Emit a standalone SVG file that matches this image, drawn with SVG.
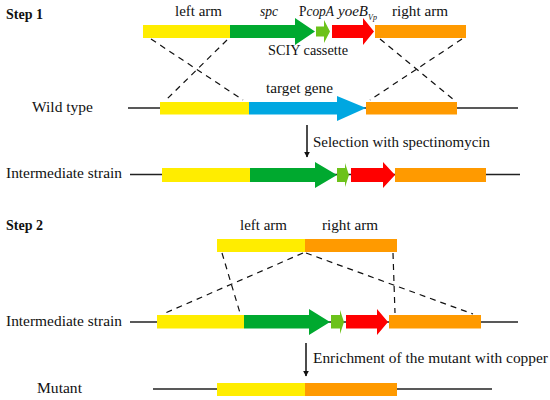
<svg xmlns="http://www.w3.org/2000/svg" width="550" height="400" viewBox="0 0 550 400">
<defs>
<style>
text{font-family:"Liberation Serif","Times New Roman",serif;font-size:15px;fill:#111}
.b{font-weight:bold;font-size:14px}
.i{font-style:italic}
.y{fill:#FFED00}
.g{fill:#00A92F}
.lg{fill:#6CC21A}
.r{fill:#FF0000}
.o{fill:#FF9A00}
.bl{fill:#00A7E1}
.ln{stroke:#222;stroke-width:1.3;fill:none}
.d{stroke:#111;stroke-width:1.2;stroke-dasharray:6,5;fill:none}
.ar{stroke:#111;stroke-width:1.5;fill:none;marker-end:url(#ah)}
</style>
<marker id="ah" viewBox="0 0 10 10" refX="9" refY="5" markerWidth="6" markerHeight="7" orient="auto" markerUnits="userSpaceOnUse">
<path d="M0,0 L10,5 L0,10 z" fill="#111"/>
</marker>
</defs>
<rect width="550" height="400" fill="#fff"/>

<text class="b" x="6" y="19" textLength="37" lengthAdjust="spacingAndGlyphs">Step 1</text>
<text class="b" x="6" y="230" textLength="37" lengthAdjust="spacingAndGlyphs">Step 2</text>

<!-- Step 1 construct -->
<g id="s1-construct">
<rect class="y" x="143" y="25" width="87" height="13"/>
<polygon class="g" points="230,25 295,25 295,18 315,31.5 295,45 295,38 230,38"/>
<polygon class="lg" points="316,26.5 324,26.5 324,20 330,31.5 324,43 324,36.5 316,36.5"/>
<polygon class="r" points="332,25 363,25 363,18 374,31.5 363,45 363,38 332,38"/>
<rect class="o" x="375" y="25" width="91" height="13"/>
<text x="175" y="16" textLength="47" lengthAdjust="spacingAndGlyphs">left arm</text>
<text class="i" x="260" y="16" textLength="18" lengthAdjust="spacingAndGlyphs">spc</text>
<text x="299" y="16" textLength="35" lengthAdjust="spacingAndGlyphs">P<tspan class="i">copA</tspan></text>
<text class="i" x="338" y="16" textLength="30" lengthAdjust="spacingAndGlyphs">yoeB</text>
<text class="i" x="368" y="20" style="font-size:8px">Vp</text>
<text x="392" y="16" textLength="56" lengthAdjust="spacingAndGlyphs">right arm</text>
<text x="268" y="55" textLength="80" lengthAdjust="spacingAndGlyphs">SCIY cassette</text>
</g>

<!-- Wild type -->
<g id="wild-type">
<text x="32" y="112" textLength="61" lengthAdjust="spacingAndGlyphs">Wild type</text>
<line class="ln" x1="128" y1="108" x2="518" y2="108"/>
<rect class="y" x="160" y="102" width="89" height="12.5"/>
<polygon class="bl" points="249,102 337,102 337,96 366,108 337,121 337,114.5 249,114.5"/>
<rect class="o" x="366" y="102" width="91" height="12.5"/>
<text x="266" y="93" textLength="67" lengthAdjust="spacingAndGlyphs">target gene</text>
</g>

<!-- Intermediate strain 1 -->
<g id="intermediate-1">
<text x="6" y="178" textLength="116" lengthAdjust="spacingAndGlyphs">Intermediate strain</text>
<line class="ln" x1="130" y1="174.5" x2="520" y2="174.5"/>
<rect class="y" x="162" y="168" width="88" height="14"/>
<polygon class="g" points="250,168 315,168 315,162 337,175 315,188 315,182 250,182"/>
<polygon class="lg" points="337,168 345,168 345,163 349,175 345,187 345,182 337,182"/>
<polygon class="r" points="351,168 383,168 383,162 395,175 383,188 383,182 351,182"/>
<rect class="o" x="395" y="168" width="91" height="14"/>
</g>

<!-- Step 2 arms -->
<g id="s2-arms">
<rect class="y" x="217" y="239" width="88" height="13"/>
<rect class="o" x="305" y="239" width="92" height="13"/>
<text x="240" y="230" textLength="47" lengthAdjust="spacingAndGlyphs">left arm</text>
<text x="322" y="230" textLength="56" lengthAdjust="spacingAndGlyphs">right arm</text>
</g>

<!-- Intermediate strain 2 -->
<g id="intermediate-2">
<text x="6" y="326" textLength="116" lengthAdjust="spacingAndGlyphs">Intermediate strain</text>
<line class="ln" x1="130" y1="322" x2="518" y2="322"/>
<rect class="y" x="157" y="315" width="87" height="13.5"/>
<polygon class="g" points="244,315 309,315 309,309 330,322 309,335 309,328.5 244,328.5"/>
<polygon class="lg" points="331,315 340,315 340,310 344,322 340,334 340,328.5 331,328.5"/>
<polygon class="r" points="346,315 377,315 377,309 388,322 377,335 377,328.5 346,328.5"/>
<rect class="o" x="389" y="315" width="92" height="13.5"/>
</g>

<!-- Mutant -->
<g id="mutant">
<text x="37" y="393" textLength="45" lengthAdjust="spacingAndGlyphs">Mutant</text>
<line class="ln" x1="153" y1="389" x2="492" y2="389"/>
<rect class="y" x="217" y="383" width="88" height="13"/>
<rect class="o" x="305" y="383" width="92" height="13"/>
</g>

<g id="connectors">
<line class="d" x1="151" y1="39" x2="243" y2="100"/>
<line class="d" x1="227" y1="40" x2="167" y2="99"/>
<line class="d" x1="380" y1="39" x2="454" y2="100"/>
<line class="d" x1="462" y1="39" x2="370" y2="100"/>
<line class="d" x1="222" y1="253" x2="240" y2="313"/>
<line class="d" x1="303" y1="253" x2="163" y2="314"/>
<line class="d" x1="306" y1="253" x2="473" y2="314"/>
<line class="d" x1="393" y1="253" x2="395" y2="313"/>
<line class="ar" x1="307" y1="125" x2="307" y2="157"/>
<line class="ar" x1="306" y1="343" x2="306" y2="376"/>
<text x="313" y="147" textLength="177" lengthAdjust="spacingAndGlyphs">Selection with spectinomycin</text>
<text x="313" y="363" textLength="235" lengthAdjust="spacingAndGlyphs">Enrichment of the mutant with copper</text>
</g>
</svg>
